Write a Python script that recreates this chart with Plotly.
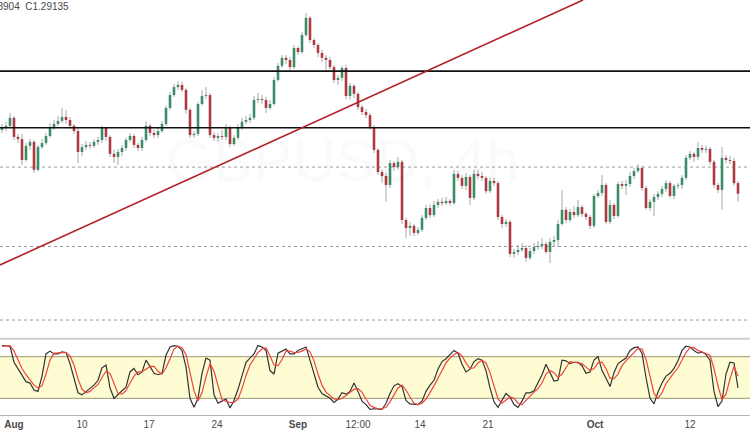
import plotly.graph_objects as go

# ---------------- data (GBPUSD 4h) ----------------
opens = [1.3121,1.3127,1.3134,1.3160,1.3098,1.3091,1.3023,1.3069,1.3082,1.2991,
1.3065,1.3078,1.3101,1.3127,1.3140,1.3150,1.3163,1.3153,1.3134,1.3117,
1.3049,1.3065,1.3072,1.3069,1.3082,1.3088,1.3127,1.3098,1.3043,1.3033,
1.3049,1.3062,1.3088,1.3101,1.3072,1.3062,1.3088,1.3134,1.3111,1.3104,
1.3117,1.3140,1.3192,1.3234,1.3260,1.3267,1.3251,1.3186,1.3104,1.3108,
1.3205,1.3231,1.3234,1.3104,1.3095,1.3101,1.3098,1.3127,1.3075,1.3095,
1.3127,1.3147,1.3153,1.3160,1.3218,1.3221,1.3218,1.3192,1.3205,1.3283,
1.3329,1.3355,1.3348,1.3325,1.3387,1.3374,1.3429,1.3485,1.3413,1.3397,
1.3371,1.3355,1.3348,1.3325,1.3283,1.3290,1.3322,1.3231,1.3264,1.3238,
1.3195,1.3179,1.3169,1.3130,1.3056,1.2984,1.2971,1.2942,1.3013,1.3000,
1.3017,1.2828,1.2802,1.2809,1.2786,1.2796,1.2835,1.2867,1.2844,1.2877,
1.2887,1.2883,1.2890,1.2883,1.2978,1.2965,1.2939,1.2968,1.2900,1.2978,
1.2971,1.2965,1.2922,1.2955,1.2948,1.2838,1.2815,1.2822,1.2718,1.2724,
1.2731,1.2737,1.2705,1.2727,1.2740,1.2744,1.2750,1.2724,1.2757,1.2763,
1.2815,1.2861,1.2828,1.2854,1.2844,1.2870,1.2848,1.2838,1.2809,1.2906,
1.2916,1.2942,1.2822,1.2877,1.2841,1.2945,1.2939,1.2945,1.2971,1.2987,
1.2997,1.2932,1.2867,1.2887,1.2903,1.2913,1.2929,1.2948,1.2906,1.2939,
1.2942,1.2965,1.3030,1.3043,1.3033,1.3062,1.3056,1.3059,1.3017,1.2942,
1.2926,1.3030,1.3023,1.3020,1.2948]

highs = [1.3140,1.3147,1.3176,1.3166,1.3108,1.3108,1.3078,1.3091,1.3088,1.3072,
1.3091,1.3111,1.3143,1.3153,1.3166,1.3192,1.3186,1.3163,1.3140,1.3127,
1.3075,1.3085,1.3082,1.3091,1.3098,1.3134,1.3130,1.3104,1.3056,1.3059,
1.3072,1.3095,1.3111,1.3108,1.3078,1.3098,1.3150,1.3140,1.3121,1.3127,
1.3150,1.3199,1.3244,1.3270,1.3280,1.3277,1.3257,1.3192,1.3117,1.3212,
1.3251,1.3260,1.3241,1.3114,1.3111,1.3121,1.3140,1.3134,1.3104,1.3140,
1.3160,1.3166,1.3173,1.3231,1.3241,1.3234,1.3228,1.3218,1.3293,1.3338,
1.3364,1.3364,1.3358,1.3397,1.3394,1.3439,1.3501,1.3491,1.3420,1.3403,
1.3381,1.3364,1.3358,1.3332,1.3299,1.3329,1.3332,1.3273,1.3270,1.3244,
1.3202,1.3189,1.3176,1.3137,1.3062,1.2991,1.2981,1.3023,1.3020,1.3033,
1.3023,1.2835,1.2822,1.2815,1.2805,1.2844,1.2877,1.2880,1.2890,1.2896,
1.2900,1.2903,1.2896,1.2991,1.2987,1.2974,1.2981,1.2974,1.2991,1.2991,
1.2984,1.2971,1.2965,1.2965,1.2955,1.2844,1.2831,1.2828,1.2734,1.2747,
1.2753,1.2747,1.2737,1.2753,1.2760,1.2770,1.2757,1.2770,1.2776,1.2828,
1.2926,1.2870,1.2864,1.2874,1.2893,1.2877,1.2854,1.2844,1.2913,1.2926,
1.2974,1.2948,1.2893,1.2883,1.2952,1.2955,1.2958,1.2984,1.2997,1.3010,
1.3004,1.2939,1.2896,1.2913,1.2922,1.2939,1.2958,1.2955,1.2945,1.2948,
1.2974,1.3039,1.3052,1.3049,1.3082,1.3072,1.3069,1.3065,1.3023,1.2948,
1.3065,1.3039,1.3036,1.3030,1.2955]

lows = [1.3111,1.3117,1.3127,1.3088,1.3078,1.3007,1.3017,1.3056,1.2981,1.2987,
1.3059,1.3072,1.3095,1.3121,1.3134,1.3143,1.3140,1.3124,1.3108,1.3013,
1.3036,1.3056,1.3059,1.3062,1.3072,1.3078,1.3085,1.3033,1.3013,1.3007,
1.3036,1.3052,1.3082,1.3062,1.3052,1.3052,1.3082,1.3101,1.3095,1.3095,
1.3111,1.3134,1.3186,1.3228,1.3251,1.3244,1.3173,1.3095,1.3095,1.3101,
1.3199,1.3221,1.3095,1.3085,1.3082,1.3088,1.3088,1.3065,1.3069,1.3088,
1.3121,1.3140,1.3143,1.3153,1.3208,1.3205,1.3176,1.3186,1.3199,1.3277,
1.3322,1.3335,1.3316,1.3319,1.3364,1.3368,1.3423,1.3403,1.3387,1.3358,
1.3342,1.3316,1.3316,1.3273,1.3267,1.3280,1.3221,1.3218,1.3225,1.3186,
1.3169,1.3160,1.3121,1.3046,1.2974,1.2948,1.2887,1.2932,1.2987,1.2991,
1.2815,1.2770,1.2776,1.2776,1.2779,1.2789,1.2828,1.2835,1.2838,1.2867,
1.2874,1.2877,1.2874,1.2877,1.2955,1.2929,1.2926,1.2877,1.2893,1.2961,
1.2955,1.2913,1.2916,1.2939,1.2828,1.2802,1.2805,1.2708,1.2705,1.2714,
1.2724,1.2692,1.2698,1.2718,1.2731,1.2734,1.2718,1.2688,1.2744,1.2740,
1.2809,1.2818,1.2822,1.2835,1.2838,1.2838,1.2828,1.2799,1.2802,1.2900,
1.2906,1.2815,1.2815,1.2831,1.2835,1.2929,1.2909,1.2935,1.2961,1.2981,
1.2922,1.2861,1.2857,1.2841,1.2893,1.2903,1.2919,1.2900,1.2896,1.2929,
1.2929,1.2958,1.3023,1.3017,1.3023,1.3046,1.3046,1.3007,1.2932,1.2916,
1.2861,1.3013,1.3010,1.2939,1.2887]

closes = [1.3127,1.3134,1.3160,1.3098,1.3091,1.3023,1.3069,1.3082,1.2991,1.3065,
1.3078,1.3101,1.3127,1.3140,1.3150,1.3163,1.3153,1.3134,1.3117,1.3049,
1.3065,1.3072,1.3069,1.3082,1.3088,1.3127,1.3098,1.3043,1.3033,1.3049,
1.3062,1.3088,1.3101,1.3072,1.3062,1.3088,1.3134,1.3111,1.3104,1.3117,
1.3140,1.3192,1.3234,1.3260,1.3267,1.3251,1.3186,1.3104,1.3108,1.3205,
1.3231,1.3234,1.3104,1.3095,1.3101,1.3098,1.3127,1.3075,1.3095,1.3127,
1.3147,1.3153,1.3160,1.3218,1.3221,1.3218,1.3192,1.3205,1.3283,1.3329,
1.3355,1.3348,1.3325,1.3387,1.3374,1.3429,1.3485,1.3413,1.3397,1.3371,
1.3355,1.3348,1.3325,1.3283,1.3290,1.3322,1.3231,1.3264,1.3238,1.3195,
1.3179,1.3169,1.3130,1.3056,1.2984,1.2971,1.2942,1.3013,1.3000,1.3017,
1.2828,1.2802,1.2809,1.2786,1.2796,1.2835,1.2867,1.2844,1.2877,1.2887,
1.2883,1.2890,1.2883,1.2978,1.2965,1.2939,1.2968,1.2900,1.2978,1.2971,
1.2965,1.2922,1.2955,1.2948,1.2838,1.2815,1.2822,1.2718,1.2724,1.2731,
1.2737,1.2705,1.2727,1.2740,1.2744,1.2750,1.2724,1.2757,1.2763,1.2815,
1.2861,1.2828,1.2854,1.2844,1.2870,1.2848,1.2838,1.2809,1.2906,1.2916,
1.2942,1.2822,1.2877,1.2841,1.2945,1.2939,1.2945,1.2971,1.2987,1.2997,
1.2932,1.2867,1.2887,1.2903,1.2913,1.2929,1.2948,1.2906,1.2939,1.2942,
1.2965,1.3030,1.3043,1.3033,1.3062,1.3056,1.3059,1.3017,1.2942,1.2926,
1.3030,1.3023,1.3020,1.2948,1.29135]

# Stochastic oscillator (%K black, %D red), one value per bar
stoch_k = [96,96,95,72,63,55,44,42,32,30,
52,84,88,84,84,87,86,70,47,28,
25,30,35,39,46,64,68,35,20,26,
31,36,58,63,54,58,75,66,56,54,
56,82,94,96,95,89,65,20,7,20,
56,78,75,25,13,16,19,6,17,33,
53,72,78,84,96,94,89,60,55,85,
88,91,84,84,89,91,94,75,54,36,
27,24,20,14,19,28,26,30,42,30,
16,11,4,5,5,4,13,27,38,41,
37,17,12,11,11,16,30,39,46,62,
73,77,83,89,85,69,58,62,73,77,
75,60,35,15,7,16,27,22,11,7,
16,28,28,31,42,54,69,58,45,46,
75,74,70,72,72,67,56,58,75,80,
60,49,37,57,70,74,78,89,93,94,
85,50,20,12,29,42,52,56,63,74,
89,95,94,89,85,87,83,75,30,8,
16,55,72,71,35]

stoch_d = [95,96,96,88,76,63,54,47,39,35,
38,55,75,85,85,85,86,81,68,48,
33,28,30,35,40,50,59,56,41,27,
26,31,42,52,58,58,62,66,66,59,
55,64,77,91,95,93,83,58,31,16,
28,51,70,59,38,18,16,14,14,19,
34,53,68,78,86,91,93,81,68,67,
76,88,88,86,86,88,91,87,74,55,
39,29,24,19,18,20,24,28,33,34,
29,19,10,7,5,5,7,15,26,35,
39,32,22,13,11,13,19,28,38,49,
60,71,78,83,86,81,71,63,64,71,
75,71,57,37,19,13,17,22,20,13,
11,17,24,29,34,42,55,60,57,50,
55,65,73,72,71,70,65,60,63,71,
72,63,49,48,55,67,74,80,87,92,
91,76,52,27,20,28,41,50,57,64,
75,86,93,93,89,87,85,82,63,38,
18,26,48,66,52]

# time-axis labels (bar index where each label sits)
tick_bars = [3, 20, 36.75, 53.75, 74, 89, 104.5, 121.5, 148.25, 172]
tick_labels = ["<b>Aug</b>", "10", "17", "24", "<b>Sep</b>", "12:00", "14", "21", "<b>Oct</b>", "12"]

# drawn levels
resistance_levels = [1.3312, 1.3128]
dotted_levels = [1.3000, 1.2742, 1.2503]
trend_start = (-0.5, 1.2682)
trend_end = (145.25, 1.3543)
stoch_band = (20, 80)

# ---------------- build figure ----------------
GREEN = "#3d8c68"
RED = "#ad3a40"
WICK = "#a6a6a6"

bars = list(range(len(closes)))

wick_x, wick_y = [], []
up_x, up_y, dn_x, dn_y = [], [], [], []
for i, o, h, l, c in zip(bars, opens, highs, lows, closes):
    wick_x += [i, i, None]
    wick_y += [l, h, None]
    if c >= o:
        up_x += [i, i, None]
        up_y += [o, c, None]
    else:
        dn_x += [i, i, None]
        dn_y += [o, c, None]

fig = go.Figure()
fig.add_trace(go.Scatter(x=wick_x, y=wick_y, mode="lines",
                         line=dict(color=WICK, width=1), hoverinfo="skip",
                         xaxis="x", yaxis="y"))
fig.add_trace(go.Scatter(x=up_x, y=up_y, mode="lines",
                         line=dict(color=GREEN, width=2.6), hoverinfo="skip",
                         xaxis="x", yaxis="y"))
fig.add_trace(go.Scatter(x=dn_x, y=dn_y, mode="lines",
                         line=dict(color=RED, width=2.6), hoverinfo="skip",
                         xaxis="x", yaxis="y"))

fig.add_trace(go.Scatter(x=bars, y=stoch_k, mode="lines",
                         line=dict(color="#333333", width=1.2), hoverinfo="skip",
                         xaxis="x2", yaxis="y2"))
fig.add_trace(go.Scatter(x=bars, y=stoch_d, mode="lines",
                         line=dict(color="#f0443a", width=1.2), hoverinfo="skip",
                         xaxis="x2", yaxis="y2"))

shapes = []
# stochastic band
shapes.append(dict(type="rect", xref="paper", yref="y2", x0=0, x1=1,
                   y0=stoch_band[0], y1=stoch_band[1],
                   fillcolor="#fdfcd2", line=dict(width=0), layer="below"))
for lvl in stoch_band:
    shapes.append(dict(type="line", xref="paper", yref="y2", x0=0, x1=1,
                       y0=lvl, y1=lvl, line=dict(color="#9b9b70", width=1),
                       layer="below"))
# pane separator
shapes.append(dict(type="line", xref="paper", yref="paper", x0=0, x1=1,
                   y0=0.1835, y1=0.1835, line=dict(color="#cfcfcf", width=2)))
# dotted levels
for lvl in dotted_levels:
    shapes.append(dict(type="line", xref="paper", yref="y", x0=0, x1=1,
                       y0=lvl, y1=lvl, line=dict(color="#9a9a9a", width=1, dash="dot"),
                       layer="below"))
# black horizontal levels
for lvl in resistance_levels:
    shapes.append(dict(type="line", xref="paper", yref="y", x0=0, x1=1,
                       y0=lvl, y1=lvl, line=dict(color="#111111", width=1.6)))
# red trend line
shapes.append(dict(type="line", xref="x", yref="y",
                   x0=trend_start[0], y0=trend_start[1],
                   x1=trend_end[0], y1=trend_end[1],
                   line=dict(color="#b3202a", width=1.6)))

annotations = [
    dict(text="GBPUSD, 4h", xref="paper", yref="paper", x=0.456, y=0.70,
         showarrow=False, font=dict(family="Liberation Sans, Arial", size=60,
                                    color="rgba(0,0,0,0.02)")),
    dict(text="British Pound / U.S. Dollar", xref="paper", yref="paper",
         x=0.473, y=0.484, showarrow=False,
         font=dict(family="Liberation Sans, Arial", size=35, color="rgba(0,0,0,0.02)")),
    dict(text="L1.28904  C1.29135", xref="paper", yref="paper", x=0, y=1,
         xanchor="left", yanchor="top", xshift=-24, yshift=1, showarrow=False,
         font=dict(family="Liberation Sans, Arial", size=10, color="#4a4a4a")),
]

x_range = [-0.5, 187.0]
fig.update_layout(
    width=750, height=430,
    margin=dict(l=0, r=0, t=0, b=15),
    paper_bgcolor="white", plot_bgcolor="white",
    showlegend=False, hovermode=False,
    xaxis=dict(domain=[0, 1], range=x_range, anchor="y", visible=False),
    yaxis=dict(domain=[0.1855, 1], range=[1.24445, 1.3543], visible=False),
    xaxis2=dict(domain=[0, 1], range=x_range, anchor="y2",
                tickmode="array", tickvals=tick_bars, ticktext=tick_labels,
                showline=True, linecolor="#b5b5b5", linewidth=1,
                ticks="", showgrid=False, zeroline=False,
                tickfont=dict(family="Liberation Sans, Arial", size=10, color="#4a4a4a")),
    yaxis2=dict(domain=[0, 0.1807], range=[-4, 104], visible=False),
    shapes=shapes,
    annotations=annotations,
)

fig.write_html("out.html", config={"displayModeBar": False},
               post_script="document.body.style.margin='0';document.body.style.overflow='hidden';")
